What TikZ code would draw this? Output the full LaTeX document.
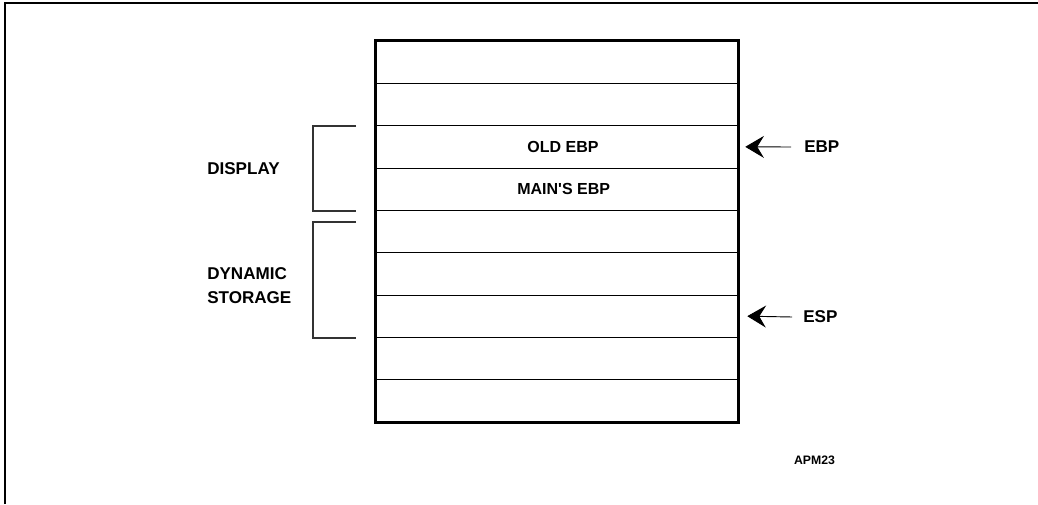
\documentclass[tikz,border=0pt]{standalone}
\usepackage{fontspec}
\setmainfont{Liberation Sans}
\usetikzlibrary{arrows.meta}
\begin{document}
\begin{tikzpicture}[x=0.75pt,y=-0.75pt,
  row/.style={minimum width=271.5pt, minimum height=31.75pt, inner sep=0pt},
  sep/.style={line width=0.8pt},
  celltext/.style={font=\bfseries\fontsize{12}{14}\selectfont, inner sep=0pt},
  lbl/.style={font=\bfseries\fontsize{12.8}{18}\selectfont, align=left, anchor=west, inner sep=0pt},
  ptr/.style={font=\bfseries\fontsize{12.8}{15}\selectfont, anchor=west, inner sep=0pt},
  brk/.style={draw=black!80, line width=0.8pt},
  arr/.style={-{Stealth[length=14pt,width=16.5pt,inset=5pt]}, line width=0.7pt}]
\useasboundingbox (0,0) rectangle (1038,504);
% frame (top and left edges only)
\draw[line width=1.6pt] (5,504) -- (5,3) -- (1038,3);
% stack rows
\foreach \i in {1,...,9} {
  \node[row] (r\i) at (557,{41+42.333*(\i-0.5)}) {};
}
\foreach \i in {1,...,8} {
  \draw[sep] (r\i.south west) -- (r\i.south east);
}
\draw[line width=2.2pt] (r1.north west) rectangle (r9.south east);
% cell texts
\node[celltext] (t3) at ([xshift=4.5pt]r3.center) {OLD EBP};
\node[celltext] (t4) at ([xshift=5pt]r4.center) {MAIN\textquotesingle S EBP};
% brackets
\coordinate (d1) at (356,126);
\coordinate (d2) at (356,211);
\coordinate (s1) at (356,222);
\coordinate (s2) at (356,338);
\draw[brk] (d1) -- (313,126) -- (313,211) -- (d2);
\draw[brk] (s1) -- (313,222) -- (313,338) -- (s2);
\node[lbl] (disp) at (207,169) {DISPLAY};
\node[lbl] (dyn) at (207,286) {DYNAMIC\\STORAGE};
% pointers
\node[ptr] (ebp) at (804,147) {EBP};
\node[ptr] (esp) at (803,317) {ESP};
\coordinate (ebpt) at (791,147);
\coordinate (espt) at (792,317);
\draw[arr] (ebpt) -- ([xshift=5.25pt]r3.east);
\draw[arr] (espt) -- ([xshift=6.75pt]r7.east);
\node[font=\bfseries\fontsize{9.2}{11}\selectfont, inner sep=0pt] (apm) at (814.5,460) {APM23};
\end{tikzpicture}
\end{document}
